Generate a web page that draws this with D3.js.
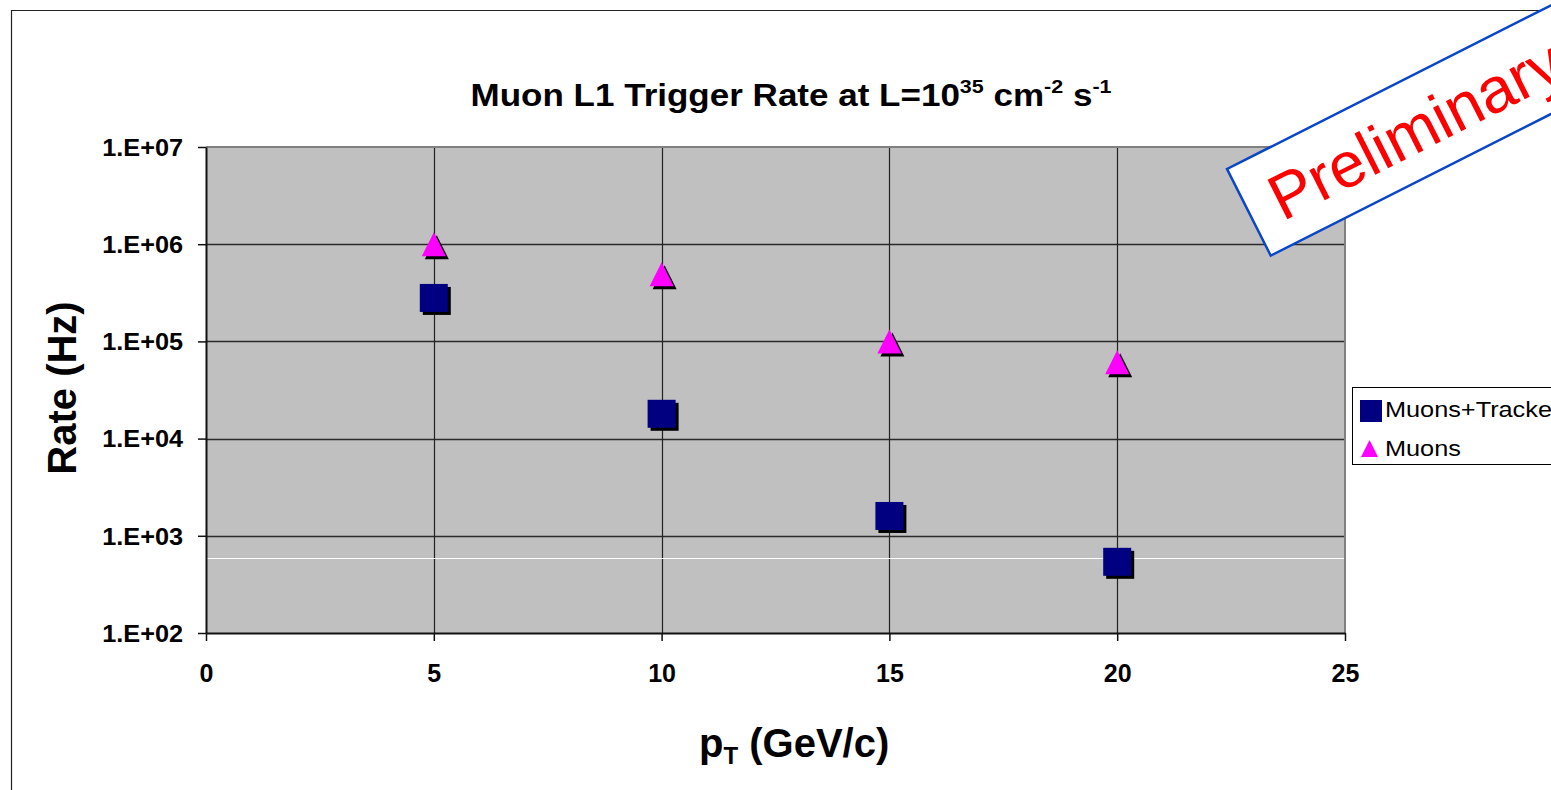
<!DOCTYPE html>
<html>
<head>
<meta charset="utf-8">
<script src="https://cdn.jsdelivr.net/npm/d3@7"></script>
<style>
  html, body { margin: 0; padding: 0; background: #fff; }
  svg { display: block; font-family: "Liberation Sans", Arial, sans-serif; }
</style>
</head>
<body>
<svg width="1551" height="790"></svg>
<script>
// data
const pt = [5, 10, 15, 20]
const muonsTracker = [2.8e5, 1.8e4, 1.6e3, 5.4e2]
const muons = [1.0e6, 4.9e5, 1.0e5, 6.1e4]
const xTicks = [0, 5, 10, 15, 20, 25]
const yTicks = [1e2, 1e3, 1e4, 1e5, 1e6, 1e7]
const whiteLevel = 590   // odd white line across the plot
const seriesNames = ["Muons+Tracker", "Muons"]

const svg = d3.select("svg")
const plot = { left: 206, right: 1345, top: 147, bottom: 633 }
const sx = 1.1  // the original text is stretched sideways

const x = d3.scaleLinear().domain([0, 25]).range([plot.left, plot.right])
const y = d3.scaleLog().domain([1e2, 1e7]).range([plot.bottom, plot.top])

// plot background
svg.append("rect")
  .attr("x", plot.left).attr("y", plot.top)
  .attr("width", plot.right - plot.left).attr("height", plot.bottom - plot.top)
  .attr("fill", "#c0c0c0")

// grid
svg.append("g").selectAll("line")
  .data(yTicks.slice(1, -1))
  .enter().append("line")
  .attr("x1", plot.left).attr("x2", plot.right)
  .attr("y1", d => Math.round(y(d)) + 0.5).attr("y2", d => Math.round(y(d)) + 0.5)
  .attr("stroke", "#2a2a2a").attr("stroke-width", 1.6)

svg.append("g").selectAll("line")
  .data(xTicks.slice(1, -1))
  .enter().append("line")
  .attr("x1", d => Math.round(x(d)) + 0.5).attr("x2", d => Math.round(x(d)) + 0.5)
  .attr("y1", plot.top).attr("y2", plot.bottom)
  .attr("stroke", "#222").attr("stroke-width", 1.2)

svg.append("line")
  .attr("x1", plot.left).attr("x2", plot.right)
  .attr("y1", Math.round(y(whiteLevel)) + 0.5).attr("y2", Math.round(y(whiteLevel)) + 0.5)
  .attr("stroke", "#fff").attr("stroke-width", 1.2)

// plot border (top/right grey, axes black)
svg.append("path")
  .attr("d", `M${plot.left},${plot.top}H${plot.right}V${plot.bottom}`)
  .attr("fill", "none").attr("stroke", "#808080").attr("stroke-width", 2)

// axes
const yAxis = d3.axisLeft(y).tickValues(yTicks).tickSize(8).tickSizeOuter(0)
  .tickFormat(d => "1.E+" + String(Math.round(Math.log10(d))).padStart(2, "0"))
const gy = svg.append("g").attr("transform", `translate(${plot.left},0)`).call(yAxis)
gy.select(".domain").attr("stroke", "#111").attr("stroke-width", 2)
gy.selectAll(".tick line").attr("stroke", "#111").attr("stroke-width", 1.5)
gy.selectAll(".tick text")
  .attr("x", -23 / sx).attr("dy", "0.36em")
  .attr("transform", `scale(${sx},1)`)
  .attr("font-size", 23).attr("font-weight", "bold").attr("fill", "#000")
  .attr("font-family", "Liberation Sans, Arial, sans-serif")

const xAxis = d3.axisBottom(x).tickValues(xTicks).tickSize(8).tickSizeOuter(0)
const gx = svg.append("g").attr("transform", `translate(0,${plot.bottom})`).call(xAxis)
gx.select(".domain").attr("stroke", "#111").attr("stroke-width", 2)
gx.selectAll(".tick line").attr("stroke", "#111").attr("stroke-width", 1.5)
gx.selectAll(".tick text")
  .attr("y", 49).attr("dy", 0)
  .attr("font-size", 25).attr("font-weight", "bold").attr("fill", "#000")
  .attr("font-family", "Liberation Sans, Arial, sans-serif")

// markers
const sq = 28

const squares = svg.append("g")
squares.selectAll("rect.shadow")
  .data(pt).enter().append("rect")
  .attr("class", "shadow")
  .attr("x", (d, i) => x(d) - sq / 2 + 3).attr("y", (d, i) => y(muonsTracker[i]) - sq / 2 + 3)
  .attr("width", sq).attr("height", sq).attr("fill", "#000")
squares.selectAll("rect.mark")
  .data(pt).enter().append("rect")
  .attr("class", "mark")
  .attr("x", (d, i) => x(d) - sq / 2).attr("y", (d, i) => y(muonsTracker[i]) - sq / 2)
  .attr("width", sq).attr("height", sq).attr("fill", "#000080")

function triPath(cx, cy, w) {
  const h = w
  return `M${cx},${cy - h / 2}L${cx + w / 2},${cy + h / 2}L${cx - w / 2},${cy + h / 2}Z`
}

const tris = svg.append("g")
tris.selectAll("path.shadow")
  .data(pt).enter().append("path")
  .attr("class", "shadow")
  .attr("d", (d, i) => triPath(x(d) + 3, y(muons[i]) + 3, 24))
  .attr("fill", "#000")
tris.selectAll("path.mark")
  .data(pt).enter().append("path")
  .attr("class", "mark")
  .attr("d", (d, i) => triPath(x(d), y(muons[i]), 24))
  .attr("fill", "#ff00ff")

// title
const title = svg.append("text")
  .attr("transform", `translate(791,106) scale(1.13,1)`)
  .attr("text-anchor", "middle")
  .attr("font-size", 31).attr("font-weight", "bold")
title.append("tspan").text("Muon L1 Trigger Rate at L=10")
title.append("tspan").attr("font-size", 19).attr("dy", -13).text("35")
title.append("tspan").attr("dy", 13).text(" cm")
title.append("tspan").attr("font-size", 19).attr("dy", -13).text("-2")
title.append("tspan").attr("dy", 13).text(" s")
title.append("tspan").attr("font-size", 19).attr("dy", -13).text("-1")

// axis titles
svg.append("text")
  .attr("transform", "translate(76,388) rotate(-90)")
  .attr("text-anchor", "middle")
  .attr("font-size", 40).attr("font-weight", "bold")
  .text("Rate (Hz)")

const xt = svg.append("text")
  .attr("x", 699).attr("y", 757)
  .attr("font-size", 40).attr("font-weight", "bold")
xt.append("tspan").text("p")
xt.append("tspan").attr("font-size", 24).attr("dy", 7).text("T")
xt.append("tspan").attr("dy", -7).text(" (GeV/c)")

// legend
const legend = svg.append("g")
legend.append("rect")
  .attr("x", 1352.5).attr("y", 387.5).attr("width", 240).attr("height", 77)
  .attr("fill", "#fff").attr("stroke", "#000").attr("stroke-width", 1)
legend.append("rect")
  .attr("x", 1360).attr("y", 400).attr("width", 22).attr("height", 22)
  .attr("fill", "#000080")
legend.append("path")
  .attr("d", triPath(1369.5, 448.5, 17))
  .attr("fill", "#ff00ff")
legend.selectAll("text")
  .data(seriesNames).enter().append("text")
  .attr("transform", (d, i) => `translate(1385,${i === 0 ? 417 : 456}) scale(1.15,1)`)
  .attr("font-size", 22)
  .text(d => d)

// outer frame
svg.append("path")
  .attr("d", "M11.5,790V10.5H1551")
  .attr("fill", "none").attr("stroke", "#222").attr("stroke-width", 1.2)

// Preliminary stamp
const stamp = svg.append("g").attr("transform", "translate(1227,169) rotate(-26.8)")
stamp.append("rect")
  .attr("x", 0).attr("y", 0).attr("width", 420).attr("height", 97)
  .attr("fill", "#fff").attr("stroke", "#0a46c8").attr("stroke-width", 2.5)
stamp.append("text")
  .attr("x", 26).attr("y", 72)
  .attr("font-size", 64).attr("fill", "#ff0000")
  .text("Preliminary")
</script>
</body>
</html>
